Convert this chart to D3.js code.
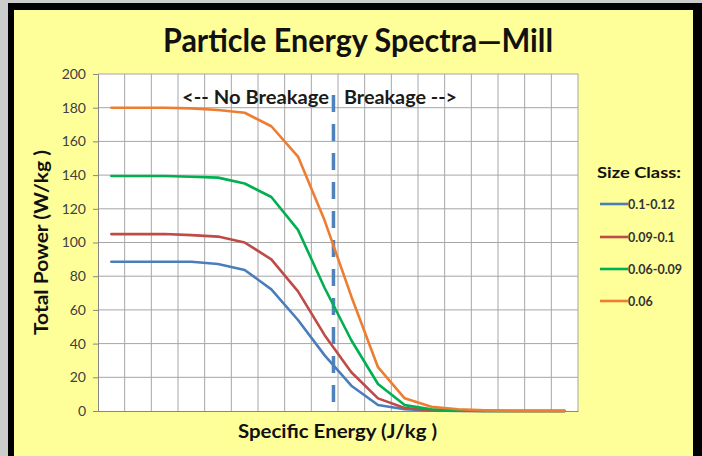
<!DOCTYPE html>
<html><head><meta charset="utf-8">
<script src="https://cdn.jsdelivr.net/npm/d3@7"></script>
<style>html,body{margin:0;padding:0;background:#cccccc;}svg{display:block;}</style>
</head><body>
<script>
const categories = d3.range(1, 19).map(String); // 18 unlabeled specific-energy steps
const seriesNames = ["0.1-0.12", "0.09-0.1", "0.06-0.09", "0.06"];
const seriesColors = ["#4A7EBB", "#BE4B48", "#00B050", "#ED7D31"];
const blueValues   = [88.6, 88.6, 88.6, 88.6, 87.2, 83.7, 72.2, 54, 33, 15, 3.6, 1, 0.3, 0, 0, 0, 0, 0];
const redValues    = [105, 105, 105, 104.4, 103.5, 100, 90, 71, 45, 23, 7.5, 1.8, 0.5, 0.2, 0, 0, 0, 0];
const greenValues  = [139.5, 139.5, 139.5, 139, 138.5, 135, 127, 107.5, 73, 42, 16, 3.5, 1, 0.3, 0, 0, 0, 0];
const orangeValues = [180, 180, 180, 179.6, 178.6, 177, 169, 151, 113, 68, 26, 7.5, 2.5, 1, 0.4, 0, 0, 0];
const yTicks = [0, 20, 40, 60, 80, 100, 120, 140, 160, 180, 200];
const breakagePosition = 8.83;   // position along category axis
const breakageTop = 187.5;       // y value where dashed divider starts

const W = 702, H = 456;
const svg = d3.select("body").append("svg").attr("width", W).attr("height", H);
svg.append("rect").attr("x", 0).attr("y", 0).attr("width", W).attr("height", H).attr("fill", "#cccccc");
svg.append("rect").attr("x", 8).attr("y", 3).attr("width", W - 8).attr("height", H).attr("fill", "#000");
svg.append("rect").attr("x", 14).attr("y", 10).attr("width", 679).attr("height", H).attr("fill", "#ffff99");

const plot = {left: 98, right: 578, top: 74, bottom: 411};
const x = d3.scaleLinear().domain([0, categories.length]).range([plot.left, plot.right]);
const y = d3.scaleLinear().domain([0, 200]).range([plot.bottom, plot.top]);

svg.append("rect").attr("x", plot.left).attr("y", plot.top)
  .attr("width", plot.right - plot.left).attr("height", plot.bottom - plot.top).attr("fill", "#fff");

// grid
const g = svg.append("g");
g.selectAll("line.h").data(yTicks.filter(d => d > 0)).join("line")
  .attr("x1", plot.left).attr("x2", plot.right).attr("y1", d => y(d)).attr("y2", d => y(d))
  .attr("stroke", "#a6a6a6").attr("stroke-width", 1);
g.selectAll("line.v").data(d3.range(1, categories.length + 1)).join("line")
  .attr("x1", d => x(d)).attr("x2", d => x(d)).attr("y1", plot.top).attr("y2", plot.bottom)
  .attr("stroke", "#a6a6a6").attr("stroke-width", 1);

const font = "Lato, 'Open Sans', sans-serif";

// y axis
const yAxis = d3.axisLeft(y).tickValues(yTicks).tickSize(5).tickPadding(7);
const ya = svg.append("g").attr("transform", `translate(${plot.left},0)`).call(yAxis);
ya.select(".domain").attr("stroke", "#868686");
ya.selectAll(".tick line").attr("stroke", "#868686");
ya.selectAll("text").attr("font-family", font).attr("font-size", 14).attr("fill", "#404040");

// x axis
const xa = svg.append("g").attr("transform", `translate(0,${plot.bottom})`)
  .call(d3.axisBottom(x).tickValues(d3.range(0, categories.length + 1)).tickSize(0).tickFormat(""));
xa.select(".domain").attr("stroke", "#868686");

// breakage divider
svg.append("line")
  .attr("x1", x(breakagePosition)).attr("x2", x(breakagePosition))
  .attr("y1", y(breakageTop)).attr("y2", y(0))
  .attr("stroke", "#4F81BD").attr("stroke-width", 3.5).attr("stroke-dasharray", "17,12");

// series
const allSeries = [blueValues, redValues, greenValues, orangeValues];
const line = d3.line().x((d, i) => x(i + 0.5)).y(d => y(d));
svg.selectAll("path.series").data(allSeries).join("path")
  .attr("class", "series").attr("d", line).attr("fill", "none")
  .attr("stroke", (d, i) => seriesColors[i]).attr("stroke-width", 2.6)
  .attr("stroke-linejoin", "round").attr("stroke-linecap", "round");

function label(sel, len) {
  return sel.attr("textLength", len).attr("lengthAdjust", "spacingAndGlyphs");
}
// annotations
label(svg.append("text").attr("x", 182).attr("y", 104)
  .attr("font-family", font).attr("font-weight", "bold").attr("font-size", 19).attr("fill", "#1a1a1a")
  .text("<-- No Breakage"), 147);
label(svg.append("text").attr("x", 344).attr("y", 104)
  .attr("font-family", font).attr("font-weight", "bold").attr("font-size", 19).attr("fill", "#1a1a1a")
  .text("Breakage -->"), 113);

// title
label(svg.append("text").attr("x", 163).attr("y", 52)
  .attr("font-family", font).attr("font-weight", "bold").attr("font-size", 32).attr("fill", "#111")
  .text("Particle Energy Spectra\u2014Mill"), 390);

// axis titles
label(svg.append("text").attr("transform", "translate(48,335) rotate(-90)")
  .attr("font-family", font).attr("font-weight", "bold").attr("font-size", 19).attr("fill", "#111")
  .text("Total Power (W/kg )"), 185);
label(svg.append("text").attr("x", 238).attr("y", 438)
  .attr("font-family", font).attr("font-weight", "bold").attr("font-size", 19).attr("fill", "#111")
  .text("Specific Energy (J/kg )"), 199);

// legend
const legend = svg.append("g");
label(legend.append("text").attr("x", 597).attr("y", 178)
  .attr("font-family", font).attr("font-weight", "bold").attr("font-size", 16).attr("fill", "#111")
  .text("Size Class:"), 84);
const legY = [204, 237, 269, 301];
const items = legend.selectAll("g.item").data(seriesNames).join("g").attr("class", "item")
  .attr("transform", (d, i) => `translate(600,${legY[i]})`);
items.append("line").attr("x1", 0).attr("x2", 28).attr("y1", 0).attr("y2", 0)
  .attr("stroke", (d, i) => seriesColors[i]).attr("stroke-width", 2.6);
items.append("text").attr("x", 28).attr("y", 4.5)
  .attr("font-family", font).attr("font-weight", "bold").attr("font-size", 12.5).attr("fill", "#333")
  .text(d => d);
</script>
</body></html>
